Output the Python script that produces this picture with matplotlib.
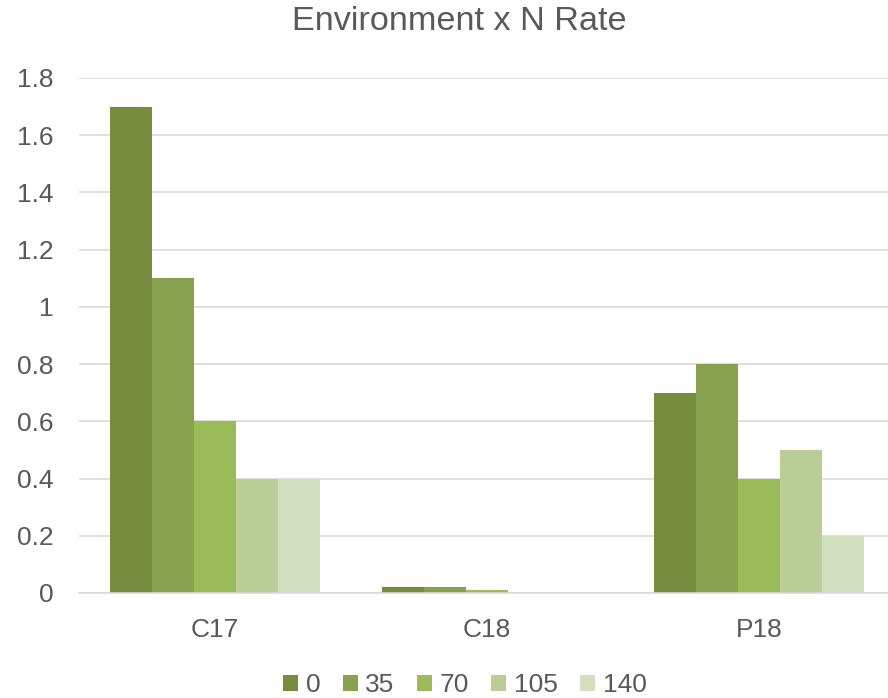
import matplotlib
matplotlib.use("Agg")
import matplotlib.pyplot as plt
import numpy as np

plt.rcParams['font.family'] = ['Liberation Sans', 'DejaVu Sans']

categories = ["C17", "C18", "P18"]
series_names = ["0", "35", "70", "105", "140"]
values = {
    "0":   [1.7, 0.02, 0.7],
    "35":  [1.1, 0.02, 0.8],
    "70":  [0.6, 0.01, 0.4],
    "105": [0.4, 0.0, 0.5],
    "140": [0.4, 0.0, 0.2],
}
colors = ["#778B3F", "#88A14F", "#9BBB59", "#BACD96", "#D1DFBE"]
yticks = [0, 0.2, 0.4, 0.6, 0.8, 1, 1.2, 1.4, 1.6, 1.8]
ytick_labels = ["0", "0.2", "0.4", "0.6", "0.8", "1", "1.2", "1.4", "1.6", "1.8"]

fig = plt.figure(figsize=(8.88, 6.98), dpi=100)
ax = fig.add_axes([79/888, 1 - 593/698, 1 - 79/888, (593 - 78)/698])

x = np.arange(len(categories))
bw = 42/272
n = len(series_names)
for i, (name, c) in enumerate(zip(series_names, colors)):
    offs = (i - (n - 1)/2) * bw
    ax.bar(x + offs, values[name], width=bw, color=c, label=name, zorder=3)

ax.set_xlim(-0.5, (888 - 215)/272)
ax.set_ylim(0, 1.8)
ax.set_yticks(yticks)
ax.set_yticklabels(ytick_labels)
ax.set_xticks(x)
ax.set_xticklabels(categories)
ax.yaxis.grid(True, color="#D9D9D9", linewidth=1.2, zorder=0)
for s in ["top", "right", "left"]:
    ax.spines[s].set_visible(False)
ax.spines["bottom"].set_color("#D9D9D9")
ax.spines["bottom"].set_linewidth(1.2)
ax.spines["bottom"].set_zorder(4)
ax.tick_params(axis="both", length=0, labelsize=19, colors="#595959")
ax.tick_params(axis="y", pad=18.5)
ax.tick_params(axis="x", pad=18)

fig.text(459/888, 1 - 22/698, "Environment x N Rate", ha="center", va="center",
         fontsize=24.7, color="#595959")

leg = fig.legend(loc="center", bbox_to_anchor=(465/888, 1 - 685/698), ncol=5,
                 frameon=False, fontsize=19, handlelength=0.57, handleheight=0.57,
                 handletextpad=0.3, columnspacing=0.84, labelcolor="#595959",
                 borderpad=0)

fig.savefig("out.png", dpi=100, facecolor="white")
